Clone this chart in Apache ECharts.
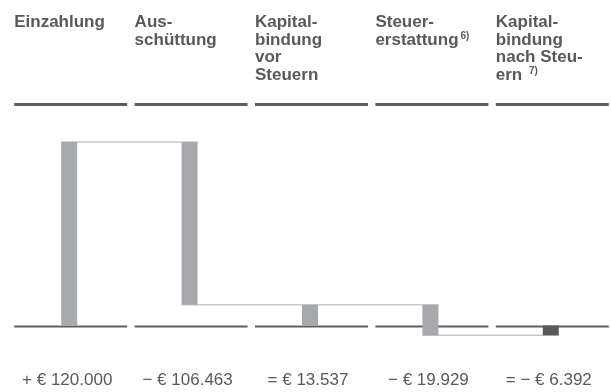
<!DOCTYPE html>
<html>
<head>
<meta charset="utf-8">
<script src="https://cdn.jsdelivr.net/npm/echarts@6/dist/echarts.min.js"></script>
<style>html,body{margin:0;padding:0;background:#fff}#c{width:611px;height:392px}</style>
</head>
<body>
<div id="c"></div>
<script>
// ---- data ----
const categories = ['Einzahlung', 'Ausschüttung', 'Kapitalbindung vor Steuern', 'Steuererstattung', 'Kapitalbindung nach Steuern'];
const headerLabels = ['Einzahlung', 'Aus-\nschüttung', 'Kapital-\nbindung\nvor\nSteuern', 'Steuer-\nerstattung{sup|6)}', 'Kapital-\nbindung\nnach Steu-\nern {sup|7)}'];
const steps = [120000, -106463, 13537, -19929, -6392];
const isSubtotal = [false, false, true, false, true];
const valueLabels = ['+ € 120.000', '− € 106.463', '= € 13.537', '− € 19.929', '= − € 6.392'];

// ---- build waterfall ----
const barData = [];
const connectorData = [];
let running = 0;
steps.forEach((v, i) => {
  let low, high;
  if (isSubtotal[i]) {
    low = Math.min(0, v); high = Math.max(0, v);
    running = v;
  } else {
    const start = running;
    running = start + v;
    low = Math.min(start, running); high = Math.max(start, running);
  }
  barData.push([i, low, high, (isSubtotal[i] && v < 0) ? 1 : 0]);
  if (i < steps.length - 1) connectorData.push([i, running, i + 1]);
});
const frameData = categories.map((c, i) => [i, 0]);

const FONT = '"Liberation Sans", Arial, Helvetica, sans-serif';
const TXT = '#58595b';
const BAR_W = 16;

const chart = echarts.init(document.getElementById('c'), null, {renderer: 'canvas'});
chart.setOption({
  animation: false,
  backgroundColor: '#ffffff',
  grid: {left: 9, width: 603, top: 126.7, height: 229.4},
  xAxis: {type: 'category', data: categories, show: false},
  yAxis: {type: 'value', min: -20000, max: 130000, show: false},
  series: [
    {
      type: 'custom', clip: false, z: 1,
      encode: {x: 0, y: 1},
      data: frameData,
      renderItem: function (params, api) {
        const i = api.value(0);
        const p = api.coord([i, 0]);
        const cx = p[0], y0 = p[1];
        return {
          type: 'group',
          children: [
            {type: 'line', shape: {x1: cx - 55, y1: 104.5, x2: cx + 58, y2: 104.5}, style: {stroke: '#5d5e60', lineWidth: 3}},
            {type: 'line', shape: {x1: cx - 55, y1: y0 + 1, x2: cx + 58, y2: y0 + 1}, style: {stroke: '#5d5e60', lineWidth: 2}},
            {type: 'text', x: cx - 55, y: 14, style: {
              text: headerLabels[i], fill: TXT, fontFamily: FONT, fontSize: 17, fontWeight: 'bold',
              lineHeight: 17.5, align: 'left', verticalAlign: 'top',
              rich: {sup: {fontSize: 10, fontWeight: 'bold', fontFamily: FONT, fill: TXT, verticalAlign: 'top', lineHeight: 12, padding: [0, 0, 0, 2]}}
            }},
            {type: 'text', x: cx - 2, y: 380, style: {
              text: valueLabels[i], fill: TXT, fontFamily: FONT, fontSize: 17,
              align: 'center', verticalAlign: 'middle'
            }}
          ]
        };
      }
    },
    {
      type: 'custom', clip: false, z: 2,
      encode: {x: 0, y: 1},
      data: connectorData,
      renderItem: function (params, api) {
        const a = api.coord([api.value(0), api.value(1)]);
        const b = api.coord([api.value(2), api.value(1)]);
        return {type: 'line', shape: {x1: a[0] - BAR_W / 2, y1: a[1], x2: b[0] + BAR_W / 2, y2: b[1]},
          style: {stroke: '#c8c8c9', lineWidth: 1.5}};
      }
    },
    {
      type: 'custom', clip: false, z: 3,
      encode: {x: 0, y: [1, 2]},
      data: barData,
      renderItem: function (params, api) {
        const top = api.coord([api.value(0), api.value(2)]);
        const bot = api.coord([api.value(0), api.value(1)]);
        return {type: 'rect', shape: {x: top[0] - BAR_W / 2, y: top[1], width: BAR_W, height: bot[1] - top[1]},
          style: {fill: api.value(3) ? '#58595b' : '#a7a9ac'}};
      }
    }
  ]
});
</script>
</body>
</html>
